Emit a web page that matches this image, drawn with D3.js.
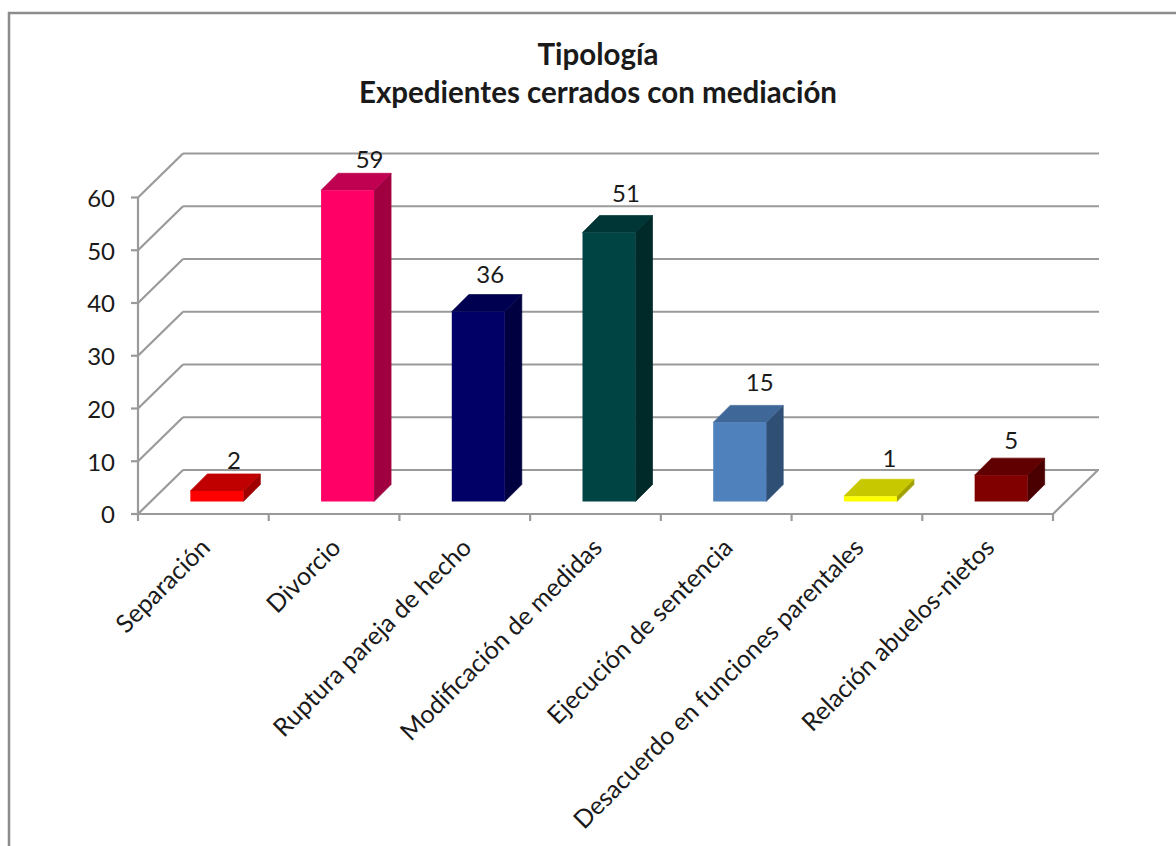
<!DOCTYPE html>
<html><head><meta charset="utf-8">
<script src="https://cdn.jsdelivr.net/npm/d3@7/dist/d3.min.js"></script>
<style>html,body{margin:0;padding:0;background:#fff;overflow:hidden}svg{display:block}text{font-family:Lato,sans-serif;fill:#1a1a1a}</style>
</head><body><svg id="c" width="1176" height="846"></svg>
<script>
const categories=["Separación","Divorcio","Ruptura pareja de hecho","Modificación de medidas","Ejecución de sentencia","Desacuerdo en funciones parentales","Relación abuelos-nietos"];
const values=[2,59,36,51,15,1,5];
const frontColors=["#ff0000","#ff0066","#000066","#004444","#4f81bd","#ffff00","#800000"];
const topColors=["#c00000","#c00050","#000050","#003636","#3f6797","#c8c800","#600000"];
const sideColors=["#a00000","#a00040","#000040","#002a2a","#2f4f75","#a0a000","#4a0000"];
const yTicks=[0,10,20,30,40,50,60];
const titleLines=["Tipología","Expedientes cerrados con mediación"];
const labelNudgeX=[0,5,-5,0,3,2,-7];
const labelNudgeY=[2,2,-5,-6,-7,-5,-2];

const svg=d3.select("#c");
const x=d3.scaleBand().domain(categories).range([138,1053]);
const y=d3.scaleLinear().domain([0,60]).range([514,197.5]);
const gray="#9a9a9a";
const DX=45,DY=-44;   // floor depth
const barOffX=13,barOffY=-12.5,barW=53,bd=17;
const ln=(a,b,c,d,w=2.2)=>svg.append("line").attr("x1",a).attr("y1",b).attr("x2",c).attr("y2",d).attr("stroke",gray).attr("stroke-width",w);

// frame
svg.append("path").attr("d","M9,846V13H1176").attr("fill","none").attr("stroke","#8c8c8c").attr("stroke-width",2.5);

// gridlines with wall
yTicks.forEach(t=>{
  const v=y(t);
  ln(x.range()[0],v,x.range()[0]+DX,v+DY);
  ln(x.range()[0]+DX,v+DY,x.range()[1]+DX+1,v+DY);
  ln(x.range()[0]-7,v,x.range()[0],v);
});
// floor
ln(x.range()[1],y(0),x.range()[1]+DX,y(0)+DY);
ln(x.range()[0],y(0),x.range()[1],y(0));
ln(x.range()[0],y(0),x.range()[0],y(60));
const tickPositions=categories.map(c=>x(c)).concat([x.range()[1]]);
tickPositions.forEach(p=>ln(p,y(0),p,y(0)+7));

// axis labels
svg.append("g").selectAll("text").data(yTicks).join("text")
  .attr("x",115).attr("y",d=>y(d)+1).attr("dy","0.35em").attr("text-anchor","end")
  .attr("font-size",24).text(d=>d);

// bars
const g=svg.append("g");
categories.forEach((c,i)=>{
  const v=values[i];
  const x0=x(c)+x.bandwidth()/2+barOffX-barW/2+0.5,x1=x0+barW;
  const yb=y(0)+barOffY,yt=y(v)+barOffY;
  g.append("path").attr("fill",sideColors[i]).attr("stroke",sideColors[i]).attr("stroke-width",0.7).attr("d",`M${x1},${yb}L${x1+bd},${yb-bd}L${x1+bd},${yt-bd}L${x1},${yt}Z`);
  g.append("path").attr("fill",topColors[i]).attr("stroke",topColors[i]).attr("stroke-width",0.7).attr("d",`M${x0},${yt}L${x0+bd},${yt-bd}L${x1+bd},${yt-bd}L${x1},${yt}Z`);
  g.append("rect").attr("fill",frontColors[i]).attr("x",x0).attr("y",yt).attr("width",barW).attr("height",yb-yt);
  svg.append("text").attr("x",(x0+x1)/2+17+labelNudgeX[i]).attr("y",yt-bd-7+labelNudgeY[i])
    .attr("text-anchor","middle").attr("font-size",24).text(v);
});

// category labels
categories.forEach(c=>{
  const cx=x(c)+x.bandwidth()/2+2, cy=543;
  svg.append("text").attr("transform",`translate(${cx},${cy}) rotate(-45)`)
    .attr("text-anchor","end").attr("dy","0.35em").attr("font-size",25).text(c);
});

// title
svg.selectAll(".t").data(titleLines).join("text").attr("class","t")
  .attr("x",598).attr("y",(d,i)=>65+i*38).attr("text-anchor","middle")
  .attr("font-size",29.5).attr("font-weight",700).text(d=>d);
</script></body></html>
